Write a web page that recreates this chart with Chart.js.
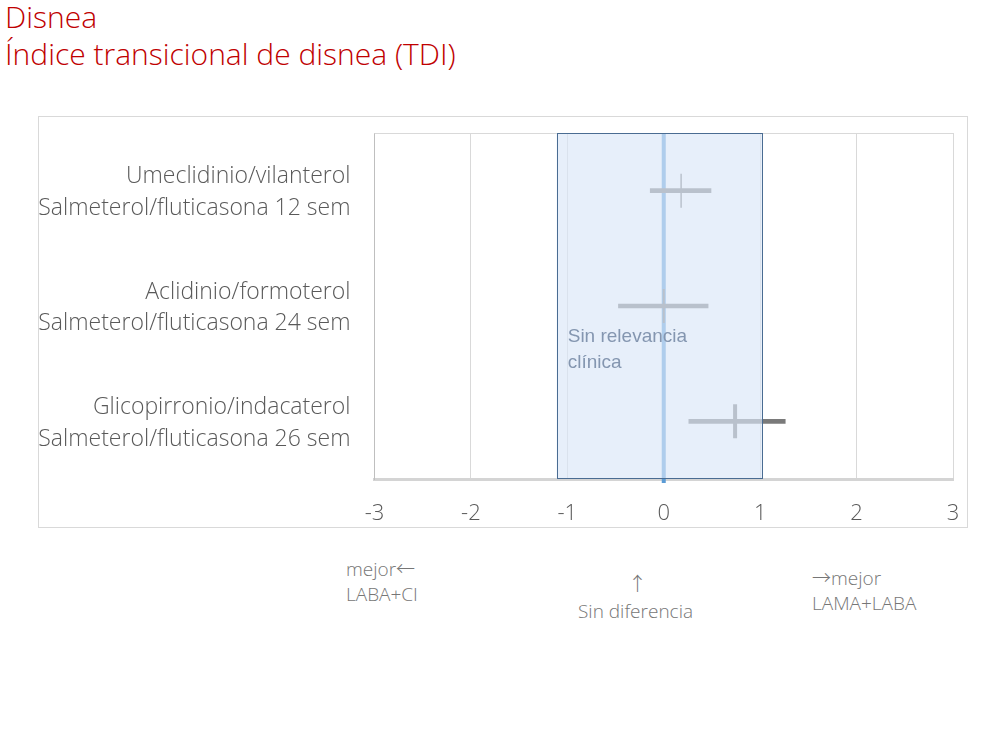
<!DOCTYPE html>
<html>
<head>
<meta charset="utf-8">
<script src="https://cdn.jsdelivr.net/npm/chart.js@4.4.1/dist/chart.umd.min.js"></script>
<style>
  body { margin: 0; background: #fff; font-family: "Open Sans", sans-serif; }
  .title { position: absolute; left: 5px; color: #c00000; font-size: 30px; font-weight: 300; white-space: nowrap; line-height: 1; }
  .note { position: absolute; color: #767676; font-size: 19px; font-weight: 300; white-space: nowrap; line-height: 1; }
  .arr { font-family: "Noto Sans CJK JP", "DejaVu Sans", sans-serif; font-weight: 300; }
  #frame { position: absolute; left: 38px; top: 116px; width: 930px; height: 412px; border: 1px solid #d9d9d9; box-sizing: border-box; }
  #wrap { position: absolute; left: 0; top: 0; width: 928px; height: 410px; }
</style>
</head>
<body>
<div class="title" style="top:2px">Disnea</div>
<div class="title" style="top:39px">Índice transicional de disnea (TDI)</div>

<div id="frame"><div id="wrap"><canvas id="chart"></canvas></div></div>

<div class="note" style="left:346px; top:558px">mejor<span class="arr">&larr;</span></div>
<div class="note" style="left:346px; top:585px">LABA+CI</div>
<div class="note arr" style="left:628px; top:573px">&uarr;</div>
<div class="note" style="left:578px; top:602px">Sin diferencia</div>
<div class="note" style="left:812px; top:567px"><span class="arr">&rarr;</span>mejor</div>
<div class="note" style="left:812px; top:594px">LAMA+LABA</div>

<script>
// comparaciones (dos líneas por etiqueta)
let labels = [
  ['Umeclidinio/vilanterol', 'Salmeterol/fluticasona 12 sem'],
  ['Aclidinio/formoterol', 'Salmeterol/fluticasona 24 sem'],
  ['Glicopirronio/indacaterol', 'Salmeterol/fluticasona 26 sem']
];
// diferencia media e IC 95%
let diff = [0.18, 0.0, 0.74];
let ciLow = [-0.14, -0.47, 0.26];
let ciHigh = [0.49, 0.46, 1.26];
let xTicks = [-3, -2, -1, 0, 1, 2, 3];
// zona sin relevancia clínica
let mcidLow = -1.11;
let mcidHigh = 1.02;
let zeroLine = 0;
let boxText = ['Sin relevancia', 'clínica'];

let grey = '#7a7a7a';

let ranges = ciLow.map((v, i) => [v, ciHigh[i]]);
let points = diff.map((v, i) => ({ x: v, y: i }));

function noPad(s) {
  s.paddingTop = 0; s.paddingBottom = 0; s.paddingLeft = 0; s.paddingRight = 0;
}

// linea del cero, por debajo de las series
let zeroPlugin = {
  id: 'zero',
  beforeDatasetsDraw(chart) {
    let ctx = chart.ctx, a = chart.chartArea, x = chart.scales.x.getPixelForValue(zeroLine);
    ctx.save();
    ctx.strokeStyle = '#d9d9d9';
    ctx.lineWidth = 1;
    ctx.beginPath();
    ctx.moveTo(a.left, a.top + 0.5);
    ctx.lineTo(a.right, a.top + 0.5);
    ctx.stroke();
    ctx.strokeStyle = '#5b9bd5';
    ctx.lineWidth = 4;
    ctx.beginPath();
    ctx.moveTo(x, a.top);
    ctx.lineTo(x, a.bottom + 4);
    ctx.stroke();
    ctx.restore();
  }
};

// caja translúcida encima de las series
let boxPlugin = {
  id: 'mcid',
  afterDatasetsDraw(chart) {
    let ctx = chart.ctx, a = chart.chartArea, sx = chart.scales.x, sy = chart.scales.y;
    let x0 = sx.getPixelForValue(mcidLow), x1 = sx.getPixelForValue(mcidHigh);
    ctx.save();
    ctx.fillStyle = 'rgba(218,230,247,0.66)';
    ctx.fillRect(x0, a.top, x1 - x0, a.bottom - a.top);
    ctx.strokeStyle = '#4a6c92';
    ctx.lineWidth = 1;
    ctx.strokeRect(Math.round(x0) + 0.5, a.top + 0.5, Math.round(x1 - x0), a.bottom - a.top - 1);
    ctx.fillStyle = '#8496b0';
    ctx.font = '19px "Liberation Sans", Arial, sans-serif';
    ctx.textBaseline = 'middle';
    let ty = sy.getPixelForValue(1) + 31;
    boxText.forEach((t, i) => ctx.fillText(t, x0 + 11, ty + i * 26));
    ctx.restore();
  }
};

new Chart(document.getElementById('chart'), {
  type: 'bar',
  data: {
    labels: labels,
    datasets: [
      {
        type: 'bar',
        data: ranges,
        backgroundColor: grey,
        barThickness: 4
      },
      {
        type: 'scatter',
        data: points,
        pointStyle: 'line',
        rotation: 90,
        radius: 17,
        borderColor: grey,
        borderWidth: [1.5, 2, 4]
      }
    ]
  },
  options: {
    indexAxis: 'y',
    responsive: true,
    maintainAspectRatio: false,
    animation: false,
    layout: { autoPadding: false, padding: { top: 16, right: 14, left: 0, bottom: 0 } },
    plugins: { legend: { display: false }, tooltip: { enabled: false } },
    scales: {
      x: {
        type: 'linear',
        min: -3,
        max: 3,
        afterBuildTicks: s => { s.ticks = xTicks.map(v => ({ value: v })); },
        afterFit: s => { s.height = 48; noPad(s); },
        grid: { color: '#d9d9d9', drawTicks: false },
        border: { color: '#d4d4d4', width: 3 },
        ticks: { color: '#595959', padding: 22, font: { family: 'Open Sans', size: 22, weight: 300 } }
      },
      y: {
        type: 'category',
        afterFit: s => { s.width = 335.5; noPad(s); },
        grid: { display: false, drawTicks: false },
        border: { color: '#bfbfbf', width: 1 },
        ticks: { color: '#595959', padding: 24, labelOffset: 2, font: { family: 'Open Sans', size: 23, weight: 300, lineHeight: 1.38 } }
      }
    }
  },
  plugins: [zeroPlugin, boxPlugin]
});
</script>
</body>
</html>
